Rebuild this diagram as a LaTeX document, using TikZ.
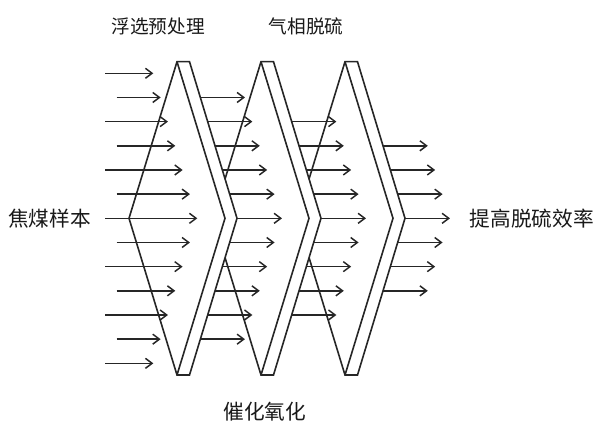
\documentclass[tikz,border=0pt]{standalone}
\usepackage{fontspec}
\newfontfamily\cjk{Noto Sans CJK SC}
\usetikzlibrary{arrows.meta}
\begin{document}
\begin{tikzpicture}[x=0.75pt,y=-0.75pt,
  plate/.style={draw=black!85,fill=white,line width=1.2pt,line join=miter},
  edge/.style={draw=black!85,line width=1.2pt},
  flow/.style={draw=black!85,line width=1.1pt,-{Straight Barb[length=5pt,width=7.5pt,line width=1.1pt]}},
  lab/.style={font=\cjk\fontsize{15.5}{16}\selectfont,text=black!90,inner sep=0pt},
  toplab/.style={font=\cjk\fontsize{14}{15}\selectfont,text=black!90,inner sep=0pt}]
\useasboundingbox[fill=white] (0,0) rectangle (600,423);
% plates, back to front
\foreach \p in {2,1,0}{
  \pgfmathsetmacro\dx{84*\p}
  \coordinate (A\p) at (177+\dx,61.7);
  \coordinate (B\p) at (189.5+\dx,61.7);
  \coordinate (L\p) at (129+\dx,218.3);
  \coordinate (I\p) at (225+\dx,218.3);
  \coordinate (O\p) at (237+\dx,218.3);
  \coordinate (C\p) at (177+\dx,375);
  \coordinate (D\p) at (189.5+\dx,375);
  \path[plate] (A\p) -- (L\p) -- (C\p) -- (D\p) -- (O\p) -- (B\p) -- cycle;
  \draw[edge] (A\p) -- (I\p) -- (C\p);
}
% incoming arrows
\foreach \k in {0,...,12}{
  \pgfmathsetmacro\yy{73.3+24.17*\k}
  \pgfmathsetmacro\m{6-abs(\k-6)}
  \pgfmathsetmacro\xs{mod(\k,2)==0 ? 105 : 116.7}
  \pgfmathsetmacro\xe{153.3+7.33*\m}
  \draw[flow] (\xs,\yy) -- (\xe,\yy);
}
% arrows leaving each plate
\foreach \p/\a/\b in {0/1/11,1/2/10,2/3/9}{
  \foreach \k in {\a,...,\b}{
    \pgfmathsetmacro\yy{73.3+24.17*\k}
    \pgfmathsetmacro\xs{237+84*\p-abs(\yy-218.3)*0.3065}
    \draw[flow] (\xs,\yy) -- ++(45,0);
  }
}
% labels
\node[toplab] (t1) at (158,26) {浮选预处理};
\node[toplab] (t2) at (306,26) {气相脱硫};
\node[lab] (in) at (49.5,219) {焦煤样本};
\node[lab] (out) at (531.7,219) {提高脱硫效率};
\node[lab] (b1) at (264.7,411.7) {催化氧化};
\end{tikzpicture}
\end{document}
